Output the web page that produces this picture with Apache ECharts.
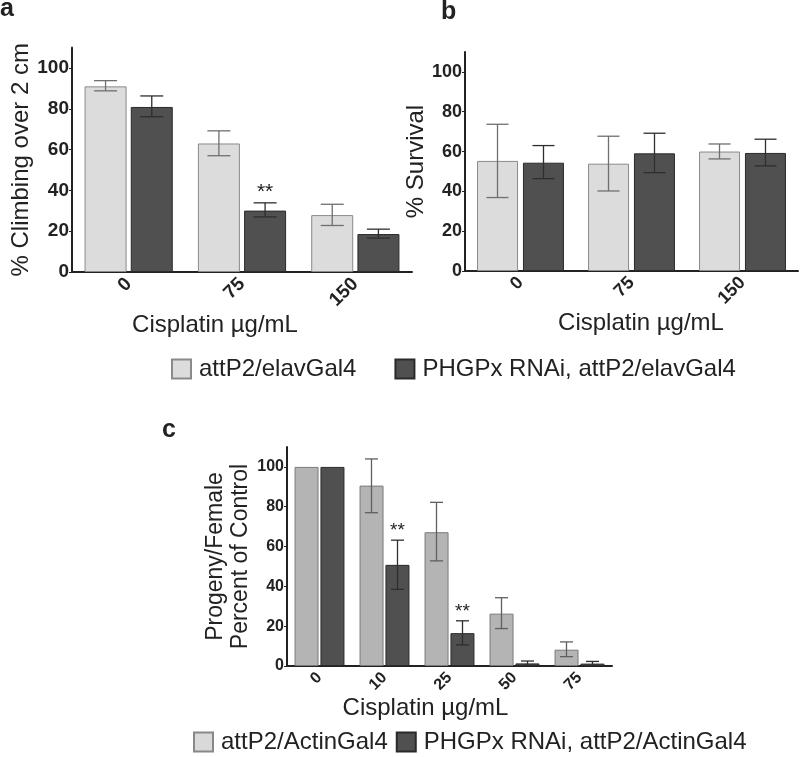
<!DOCTYPE html>
<html><head><meta charset="utf-8">
<script src="https://cdn.jsdelivr.net/npm/echarts@6/dist/echarts.min.js"></script>
<style>html,body{margin:0;padding:0;background:#fff}#c{width:800px;height:757px}</style>
</head><body><div id="c"></div>
<script>
// ---------- data ----------
const catsAB = ['0', '75', '150'];
const catsC = ['0', '10', '25', '50', '75'];
const yTicks = [0, 20, 40, 60, 80, 100];

const nameCtrlAB = 'attP2/elavGal4';
const nameRnaiAB = 'PHGPx RNAi, attP2/elavGal4';
const nameCtrlC = 'attP2/ActinGal4';
const nameRnaiC = 'PHGPx RNAi, attP2/ActinGal4';

// panel a: % climbing
const climbCtrl   = [91.0, 63.0, 27.9];
const climbCtrlLo = [88.8, 57.0, 22.8];
const climbCtrlHi = [93.8, 69.2, 33.2];
const climbRnai   = [80.9, 30.1, 18.6];
const climbRnaiLo = [76.1, 27.0, 16.6];
const climbRnaiHi = [86.3, 33.9, 21.0];
const climbRnaiSig = ['', '**', ''];

// panel b: % survival
const survCtrl   = [55.3, 53.9, 60.0];
const survCtrlLo = [36.9, 40.2, 56.3];
const survCtrlHi = [73.7, 67.7, 63.8];
const survRnai   = [54.4, 59.1, 59.3];
const survRnaiLo = [46.4, 49.4, 52.8];
const survRnaiHi = [63.0, 69.2, 66.2];

// panel c: progeny per female, % of control
const progCtrl   = [100, 90.6, 67.2, 26.3, 8.2];
const progCtrlLo = [100, 77.0, 52.8, 18.8, 4.7];
const progCtrlHi = [100, 104.0, 82.2, 34.3, 12.1];
const progRnai   = [100, 50.8, 16.5, 1.3, 1.2];
const progRnaiLo = [100, 38.5, 10.6, 0.3, 0.3];
const progRnaiHi = [100, 63.2, 22.7, 2.5, 2.3];
const progRnaiSig = ['', '**', '**', '', ''];

// ---------- styling ----------
const FF = '"Liberation Sans", Arial, Helvetica, sans-serif';
const INK = '#222';
const LIGHT = '#dcdcdc', LIGHT_B = '#8a8a8a';
const MID = '#b4b4b4', MID_B = '#7a7a7a';
const DARK = '#505050', DARK_B = '#2a2a2a';

function errSeries(name, xi, yi, lo, hi, sig, offset, cap, color, sigSize) {
  return {
    type: 'custom', name: name, xAxisIndex: xi, yAxisIndex: yi, z: 5, silent: true,
    data: lo.map((l, i) => [i, l, hi[i]]),
    renderItem: function (params, api) {
      const i = api.value(0), l = api.value(1), h = api.value(2);
      const x = api.coord([i, 0])[0] + offset;
      const yl = api.coord([i, l])[1], yh = api.coord([i, h])[1];
      const children = [];
      if (h > l) {
        const st = { stroke: color, lineWidth: 1.3 };
        children.push({ type: 'line', shape: { x1: x, y1: yl, x2: x, y2: yh }, style: st });
        children.push({ type: 'line', shape: { x1: x - cap / 2, y1: yh, x2: x + cap / 2, y2: yh }, style: st });
        children.push({ type: 'line', shape: { x1: x - cap / 2, y1: yl, x2: x + cap / 2, y2: yl }, style: st });
      }
      const s = sig ? sig[params.dataIndex] : '';
      if (s) {
        children.push({ type: 'text', style: { text: s, x: x, y: yh, align: 'center', verticalAlign: 'bottom',
          font: sigSize + 'px ' + FF, fill: INK } });
      }
      return { type: 'group', children: children };
    }
  };
}

function xAxis(gi, cats, labelSize, nameGap, namePad) {
  return {
    type: 'category', gridIndex: gi, data: cats,
    axisLine: { lineStyle: { color: INK, width: 2 } },
    axisTick: { alignWithLabel: true, length: 3, lineStyle: { color: INK } },
    axisLabel: { rotate: 45, margin: 9, fontSize: labelSize, fontWeight: 'bold', color: INK, fontFamily: FF },
    name: 'Cisplatin µg/mL', nameLocation: 'middle', nameGap: nameGap,
    nameTextStyle: { fontSize: 24, color: INK, fontFamily: FF, padding: namePad }
  };
}
function yAxis(gi, name, labelSize, nameGap, lineHeight) {
  return {
    type: 'value', gridIndex: gi, min: 0, max: 110, interval: 20,
    splitLine: { show: false },
    axisLine: { show: true, lineStyle: { color: INK, width: 2 } },
    axisTick: { show: true, length: 3, customValues: yTicks, lineStyle: { color: INK } },
    axisLabel: { margin: 3, customValues: yTicks, fontSize: labelSize, fontWeight: 'bold', color: INK, fontFamily: FF },
    name: name, nameLocation: 'middle', nameGap: nameGap,
    nameTextStyle: { fontSize: name.indexOf('\n') >= 0 ? 23 : 24, color: INK, fontFamily: FF, lineHeight: lineHeight }
  };
}
function bar(name, xi, yi, data, color, border, bw, gap) {
  return {
    type: 'bar', name: name, xAxisIndex: xi, yAxisIndex: yi, data: data,
    barWidth: bw, barGap: gap,
    itemStyle: { color: color, borderColor: border, borderWidth: 1 }
  };
}

const legendText = { fontSize: 24, color: INK, fontFamily: FF, padding: [0, 0, 0, 3] };

const option = {
  animation: false,
  backgroundColor: '#fff',
  title: [
    { text: 'a', left: 0, top: -3, padding: 0, textStyle: { fontSize: 25, fontWeight: 'bold', color: INK, fontFamily: FF } },
    { text: 'b', left: 441, top: 0, padding: 0, textStyle: { fontSize: 25, fontWeight: 'bold', color: INK, fontFamily: FF } },
    { text: 'c', left: 162, top: 418, padding: 0, textStyle: { fontSize: 25, fontWeight: 'bold', color: INK, fontFamily: FF } }
  ],
  grid: [
    { left: 72, top: 47.6, width: 340, height: 224.4 },
    { left: 465, top: 52, width: 333, height: 219 },
    { left: 287, top: 447, width: 325, height: 219 }
  ],
  xAxis: [
    xAxis(0, catsAB, 19, 39, [0, 54, 0, 0]),
    xAxis(1, catsAB, 18, 40, [0, 0, 0, 19]),
    xAxis(2, catsC, 16, 30, [0, 48, 0, 0])
  ],
  yAxis: [
    yAxis(0, '% Climbing over 2 cm', 19, 36),
    yAxis(1, '% Survival', 18, 26),
    yAxis(2, 'Progeny/Female\nPercent of Control', 16, 33, 25)
  ],
  legend: [
    { data: [nameCtrlAB, nameRnaiAB], left: 171, top: 357, padding: 0, icon: 'rect',
      itemWidth: 19, itemHeight: 19, itemGap: 38, selectedMode: false, textStyle: legendText },
    { data: [{ name: nameCtrlC, itemStyle: { color: '#d9d9d9', borderColor: '#888' } }, nameRnaiC],
      left: 193, top: 730, padding: 0, icon: 'rect',
      itemWidth: 19, itemHeight: 19, itemGap: 8, selectedMode: false, textStyle: legendText }
  ],
  series: [
    bar(nameCtrlAB, 0, 0, climbCtrl, LIGHT, LIGHT_B, 42, '10%'),
    bar(nameRnaiAB, 0, 0, climbRnai, DARK, DARK_B, 42, '10%'),
    bar(nameCtrlAB, 1, 1, survCtrl, LIGHT, LIGHT_B, 41, '12%'),
    bar(nameRnaiAB, 1, 1, survRnai, DARK, DARK_B, 41, '12%'),
    bar(nameCtrlC, 2, 2, progCtrl, MID, MID_B, 24, '8%'),
    bar(nameRnaiC, 2, 2, progRnai, DARK, DARK_B, 24, '8%'),
    errSeries('errA1', 0, 0, climbCtrlLo, climbCtrlHi, null, -23.1, 23, '#6f6f6f', 21),
    errSeries('errA2', 0, 0, climbRnaiLo, climbRnaiHi, climbRnaiSig, 23.1, 23, '#2e2e2e', 21),
    errSeries('errB1', 1, 1, survCtrlLo, survCtrlHi, null, -23, 22, '#6f6f6f', 21),
    errSeries('errB2', 1, 1, survRnaiLo, survRnaiHi, null, 23, 22, '#2e2e2e', 21),
    errSeries('errC1', 2, 2, progCtrlLo, progCtrlHi, null, -13, 13, '#5f5f5f', 19),
    errSeries('errC2', 2, 2, progRnaiLo, progRnaiHi, progRnaiSig, 13, 13, '#2e2e2e', 19)
  ]
};

const chart = echarts.init(document.getElementById('c'), null, { renderer: 'canvas' });
chart.setOption(option);
</script>
</body></html>
